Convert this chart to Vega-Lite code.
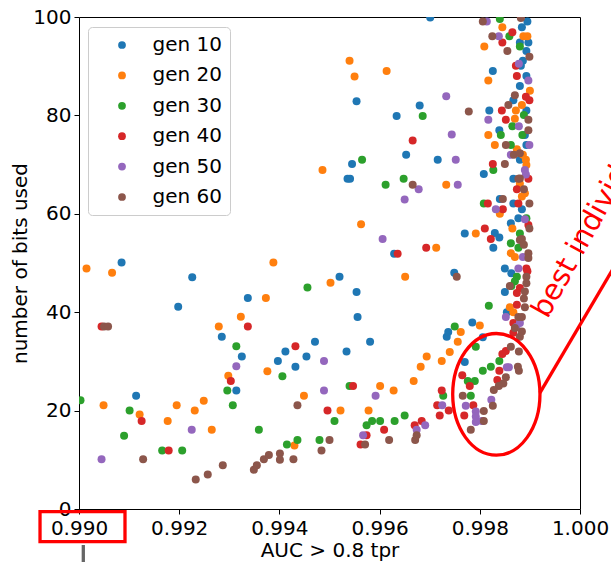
{
  "$schema": "https://vega.github.io/schema/vega-lite/v6.json",
  "width": 501,
  "height": 492,
  "autosize": {"type": "none"},
  "padding": {"left": 79, "top": 17, "right": 31, "bottom": 53},
  "background": "#ffffff",
  "config": {
    "font": "DejaVu Sans",
    "view": {"stroke": "#000000", "strokeWidth": 1},
    "axis": {
      "domain": false, "grid": false, "tickColor": "#000000", "tickSize": 5, "tickWidth": 1,
      "labelFontSize": 20, "titleFontSize": 20, "labelColor": "#000000", "titleColor": "#000000",
      "titleFontWeight": "normal", "labelFont": "DejaVu Sans", "titleFont": "DejaVu Sans", "labelFlush": false
    }
  },
  "data": {"values": [
    {"g":"gen 10","x":0.99085,"y":50.1},{"g":"gen 10","x":0.99226,"y":47.1},{"g":"gen 10","x":0.99198,"y":41.1},{"g":"gen 10","x":0.99337,"y":42.9},
    {"g":"gen 10","x":0.99285,"y":35.0},{"g":"gen 10","x":0.99325,"y":31.0},{"g":"gen 10","x":0.99397,"y":30.1},{"g":"gen 10","x":0.99314,"y":24.1},
    {"g":"gen 10","x":0.99114,"y":23.0},{"g":"gen 10","x":0.9952,"y":47.2},{"g":"gen 10","x":0.99749,"y":48.0},{"g":"gen 10","x":0.99554,"y":44.1},
    {"g":"gen 10","x":0.99556,"y":39.0},{"g":"gen 10","x":0.99471,"y":34.0},{"g":"gen 10","x":0.99581,"y":34.0},{"g":"gen 10","x":0.99412,"y":32.0},
    {"g":"gen 10","x":0.99454,"y":31.0},{"g":"gen 10","x":0.99534,"y":32.0},{"g":"gen 10","x":0.99432,"y":28.9},{"g":"gen 10","x":0.99734,"y":35.0},
    {"g":"gen 10","x":0.99737,"y":36.0},{"g":"gen 10","x":0.99785,"y":37.9},{"g":"gen 10","x":0.99806,"y":34.9},{"g":"gen 10","x":0.99701,"y":99.9},
    {"g":"gen 10","x":0.99554,"y":82.9},{"g":"gen 10","x":0.9968,"y":82.0},{"g":"gen 10","x":0.99634,"y":79.9},{"g":"gen 10","x":0.99653,"y":72.0},
    {"g":"gen 10","x":0.99716,"y":71.0},{"g":"gen 10","x":0.99545,"y":70.1},{"g":"gen 10","x":0.99536,"y":67.1},{"g":"gen 10","x":0.99541,"y":67.1},
    {"g":"gen 10","x":0.99629,"y":51.9},{"g":"gen 10","x":0.9977,"y":56.0},{"g":"gen 10","x":0.9983,"y":56.1},{"g":"gen 10","x":0.99839,"y":55.2},
    {"g":"gen 10","x":0.99827,"y":53.1},{"g":"gen 10","x":0.99895,"y":99.1},{"g":"gen 10","x":0.99884,"y":97.9},{"g":"gen 10","x":0.99897,"y":94.8},
    {"g":"gen 10","x":0.99893,"y":93.1},{"g":"gen 10","x":0.99886,"y":91.1},{"g":"gen 10","x":0.99882,"y":90.1},{"g":"gen 10","x":0.99826,"y":89.0},
    {"g":"gen 10","x":0.99893,"y":88.0},{"g":"gen 10","x":0.9988,"y":86.0},{"g":"gen 10","x":0.99867,"y":83.1},{"g":"gen 10","x":0.99819,"y":81.0},
    {"g":"gen 10","x":0.99893,"y":81.0},{"g":"gen 10","x":0.99839,"y":77.0},{"g":"gen 10","x":0.9989,"y":76.0},{"g":"gen 10","x":0.99893,"y":74.0},
    {"g":"gen 10","x":0.9988,"y":71.0},{"g":"gen 10","x":0.99808,"y":68.1},{"g":"gen 10","x":0.99867,"y":67.1},{"g":"gen 10","x":0.9984,"y":63.0},
    {"g":"gen 10","x":0.99867,"y":62.1},{"g":"gen 10","x":0.99884,"y":60.9},{"g":"gen 10","x":0.99877,"y":59.1},{"g":"gen 10","x":0.99862,"y":58.1},
    {"g":"gen 10","x":0.9985,"y":48.9},{"g":"gen 10","x":0.99863,"y":47.9},{"g":"gen 10","x":0.9985,"y":44.1},{"g":"gen 10","x":0.99854,"y":40.0},
    {"g":"gen 10","x":0.9977,"y":29.9},{"g":"gen 10","x":0.9988,"y":94.8},
    {"g":"gen 20","x":0.99015,"y":48.9},{"g":"gen 20","x":0.99066,"y":48.0},{"g":"gen 20","x":0.99388,"y":50.1},{"g":"gen 20","x":0.99373,"y":42.9},
    {"g":"gen 20","x":0.99323,"y":39.1},{"g":"gen 20","x":0.99279,"y":37.1},{"g":"gen 20","x":0.99376,"y":28.0},{"g":"gen 20","x":0.99298,"y":27.1},
    {"g":"gen 20","x":0.99049,"y":21.1},{"g":"gen 20","x":0.99195,"y":21.1},{"g":"gen 20","x":0.99249,"y":22.0},{"g":"gen 20","x":0.99231,"y":20.0},
    {"g":"gen 20","x":0.99121,"y":19.2},{"g":"gen 20","x":0.99177,"y":17.9},{"g":"gen 20","x":0.99265,"y":16.1},{"g":"gen 20","x":0.99502,"y":46.0},
    {"g":"gen 20","x":0.99651,"y":47.2},{"g":"gen 20","x":0.99449,"y":23.0},{"g":"gen 20","x":0.99601,"y":25.0},{"g":"gen 20","x":0.99628,"y":24.1},
    {"g":"gen 20","x":0.99668,"y":26.0},{"g":"gen 20","x":0.99522,"y":20.0},{"g":"gen 20","x":0.99578,"y":20.0},{"g":"gen 20","x":0.9943,"y":12.9},
    {"g":"gen 20","x":0.99694,"y":31.0},{"g":"gen 20","x":0.99682,"y":28.9},{"g":"gen 20","x":0.99724,"y":30.1},{"g":"gen 20","x":0.9974,"y":31.9},
    {"g":"gen 20","x":0.99756,"y":34.0},{"g":"gen 20","x":0.99762,"y":36.0},{"g":"gen 20","x":0.998,"y":37.3},{"g":"gen 20","x":0.9954,"y":91.1},
    {"g":"gen 20","x":0.9955,"y":87.9},{"g":"gen 20","x":0.99614,"y":89.0},{"g":"gen 20","x":0.99486,"y":68.9},{"g":"gen 20","x":0.99733,"y":65.9},
    {"g":"gen 20","x":0.99563,"y":57.9},{"g":"gen 20","x":0.99713,"y":53.1},{"g":"gen 20","x":0.99792,"y":56.0},{"g":"gen 20","x":0.99845,"y":97.9},
    {"g":"gen 20","x":0.99887,"y":96.1},{"g":"gen 20","x":0.99895,"y":96.1},{"g":"gen 20","x":0.99809,"y":94.0},{"g":"gen 20","x":0.99817,"y":87.1},
    {"g":"gen 20","x":0.999,"y":85.0},{"g":"gen 20","x":0.99884,"y":82.1},{"g":"gen 20","x":0.99872,"y":81.0},{"g":"gen 20","x":0.9987,"y":79.3},
    {"g":"gen 20","x":0.99817,"y":76.0},{"g":"gen 20","x":0.9983,"y":74.0},{"g":"gen 20","x":0.99874,"y":73.1},{"g":"gen 20","x":0.99886,"y":72.0},
    {"g":"gen 20","x":0.99892,"y":71.0},{"g":"gen 20","x":0.99893,"y":69.9},{"g":"gen 20","x":0.9988,"y":66.1},{"g":"gen 20","x":0.9984,"y":60.0},
    {"g":"gen 20","x":0.99865,"y":57.0},{"g":"gen 20","x":0.99862,"y":52.0},{"g":"gen 20","x":0.9987,"y":51.2},{"g":"gen 20","x":0.9986,"y":41.0},
    {"g":"gen 20","x":0.99867,"y":40.0},{"g":"gen 20","x":0.99884,"y":63.5},{"g":"gen 20","x":0.9989,"y":64.2},
    {"g":"gen 30","x":0.99314,"y":33.1},{"g":"gen 30","x":0.99296,"y":24.1},{"g":"gen 30","x":0.99003,"y":22.1},{"g":"gen 30","x":0.99307,"y":21.1},
    {"g":"gen 30","x":0.99101,"y":20.0},{"g":"gen 30","x":0.99359,"y":16.1},{"g":"gen 30","x":0.9909,"y":14.9},{"g":"gen 30","x":0.99166,"y":11.9},
    {"g":"gen 30","x":0.99206,"y":11.9},{"g":"gen 30","x":0.99456,"y":45.0},{"g":"gen 30","x":0.99406,"y":27.0},{"g":"gen 30","x":0.9954,"y":25.0},
    {"g":"gen 30","x":0.9951,"y":17.9},{"g":"gen 30","x":0.99585,"y":17.9},{"g":"gen 30","x":0.99601,"y":17.9},{"g":"gen 30","x":0.99574,"y":17.0},
    {"g":"gen 30","x":0.9963,"y":17.9},{"g":"gen 30","x":0.9965,"y":19.0},{"g":"gen 30","x":0.9948,"y":14.0},{"g":"gen 30","x":0.99415,"y":13.1},
    {"g":"gen 30","x":0.99436,"y":14.0},{"g":"gen 30","x":0.9975,"y":37.1},{"g":"gen 30","x":0.99727,"y":23.0},{"g":"gen 30","x":0.99818,"y":41.3},
    {"g":"gen 30","x":0.99792,"y":33.0},{"g":"gen 30","x":0.99839,"y":30.1},{"g":"gen 30","x":0.99822,"y":28.9},{"g":"gen 30","x":0.99806,"y":28.1},
    {"g":"gen 30","x":0.99776,"y":26.0},{"g":"gen 30","x":0.9979,"y":26.0},{"g":"gen 30","x":0.99782,"y":23.0},{"g":"gen 30","x":0.99565,"y":71.0},
    {"g":"gen 30","x":0.99686,"y":79.9},{"g":"gen 30","x":0.99612,"y":65.9},{"g":"gen 30","x":0.99648,"y":67.1},{"g":"gen 30","x":0.9984,"y":99.6},
    {"g":"gen 30","x":0.99859,"y":96.1},{"g":"gen 30","x":0.9988,"y":94.0},{"g":"gen 30","x":0.99888,"y":80.1},{"g":"gen 30","x":0.99865,"y":77.8},
    {"g":"gen 30","x":0.99842,"y":76.0},{"g":"gen 30","x":0.99885,"y":76.0},{"g":"gen 30","x":0.99862,"y":74.0},{"g":"gen 30","x":0.99827,"y":68.9},
    {"g":"gen 30","x":0.99808,"y":62.1},{"g":"gen 30","x":0.99893,"y":59.1},{"g":"gen 30","x":0.9988,"y":56.0},{"g":"gen 30","x":0.99862,"y":54.0},
    {"g":"gen 30","x":0.99877,"y":53.1},{"g":"gen 30","x":0.99874,"y":47.2},{"g":"gen 30","x":0.9987,"y":46.3},{"g":"gen 30","x":0.99863,"y":45.3},
    {"g":"gen 40","x":0.99045,"y":37.1},{"g":"gen 40","x":0.99337,"y":37.1},{"g":"gen 40","x":0.99303,"y":26.0},{"g":"gen 40","x":0.99125,"y":17.9},
    {"g":"gen 40","x":0.99179,"y":11.9},{"g":"gen 40","x":0.99432,"y":33.1},{"g":"gen 40","x":0.99547,"y":25.0},{"g":"gen 40","x":0.99496,"y":20.0},
    {"g":"gen 40","x":0.99609,"y":16.1},{"g":"gen 40","x":0.99574,"y":15.0},{"g":"gen 40","x":0.99562,"y":13.1},{"g":"gen 40","x":0.9967,"y":17.0},
    {"g":"gen 40","x":0.99684,"y":17.9},{"g":"gen 40","x":0.99724,"y":24.1},{"g":"gen 40","x":0.99715,"y":21.1},{"g":"gen 40","x":0.9972,"y":19.0},
    {"g":"gen 40","x":0.99738,"y":20.0},{"g":"gen 40","x":0.99839,"y":28.1},{"g":"gen 40","x":0.99852,"y":32.1},{"g":"gen 40","x":0.99845,"y":31.5},
    {"g":"gen 40","x":0.99835,"y":26.2},{"g":"gen 40","x":0.99765,"y":27.2},{"g":"gen 40","x":0.9978,"y":25.0},{"g":"gen 40","x":0.99787,"y":21.1},
    {"g":"gen 40","x":0.99769,"y":19.0},{"g":"gen 40","x":0.99666,"y":74.9},{"g":"gen 40","x":0.99636,"y":51.9},{"g":"gen 40","x":0.99693,"y":53.1},
    {"g":"gen 40","x":0.9981,"y":57.0},{"g":"gen 40","x":0.99822,"y":54.9},{"g":"gen 40","x":0.99845,"y":94.8},{"g":"gen 40","x":0.99865,"y":96.9},
    {"g":"gen 40","x":0.99872,"y":90.1},{"g":"gen 40","x":0.99874,"y":88.0},{"g":"gen 40","x":0.99892,"y":83.8},{"g":"gen 40","x":0.99899,"y":83.1},
    {"g":"gen 40","x":0.99844,"y":81.0},{"g":"gen 40","x":0.99852,"y":79.1},{"g":"gen 40","x":0.99826,"y":70.1},{"g":"gen 40","x":0.99897,"y":67.1},
    {"g":"gen 40","x":0.99874,"y":65.0},{"g":"gen 40","x":0.99816,"y":62.1},{"g":"gen 40","x":0.99846,"y":60.9},{"g":"gen 40","x":0.99877,"y":62.1},
    {"g":"gen 40","x":0.99893,"y":48.9},{"g":"gen 40","x":0.99895,"y":48.3},{"g":"gen 40","x":0.9988,"y":44.9},{"g":"gen 40","x":0.99874,"y":43.9},
    {"g":"gen 40","x":0.99874,"y":41.5},{"g":"gen 40","x":0.99867,"y":37.8},{"g":"gen 40","x":0.99867,"y":35.8},{"g":"gen 40","x":0.99897,"y":57.7},
    {"g":"gen 50","x":0.99314,"y":29.0},{"g":"gen 50","x":0.99225,"y":16.1},{"g":"gen 50","x":0.99045,"y":10.1},{"g":"gen 50","x":0.99489,"y":30.1},
    {"g":"gen 50","x":0.99489,"y":24.1},{"g":"gen 50","x":0.99592,"y":23.0},{"g":"gen 50","x":0.99567,"y":15.0},{"g":"gen 50","x":0.99674,"y":16.1},
    {"g":"gen 50","x":0.99691,"y":17.0},{"g":"gen 50","x":0.99725,"y":21.1},{"g":"gen 50","x":0.99854,"y":28.8},{"g":"gen 50","x":0.99858,"y":28.8},
    {"g":"gen 50","x":0.99823,"y":22.2},{"g":"gen 50","x":0.99772,"y":21.0},{"g":"gen 50","x":0.99792,"y":19.8},{"g":"gen 50","x":0.99792,"y":18.8},
    {"g":"gen 50","x":0.99792,"y":17.7},{"g":"gen 50","x":0.99804,"y":17.9},{"g":"gen 50","x":0.99733,"y":83.9},{"g":"gen 50","x":0.99744,"y":76.1},
    {"g":"gen 50","x":0.99752,"y":71.0},{"g":"gen 50","x":0.99678,"y":65.0},{"g":"gen 50","x":0.99756,"y":65.9},{"g":"gen 50","x":0.9965,"y":62.9},
    {"g":"gen 50","x":0.99606,"y":54.9},{"g":"gen 50","x":0.99814,"y":99.1},{"g":"gen 50","x":0.99838,"y":96.1},{"g":"gen 50","x":0.99878,"y":90.5},
    {"g":"gen 50","x":0.99897,"y":87.1},{"g":"gen 50","x":0.99817,"y":79.1},{"g":"gen 50","x":0.99878,"y":77.8},{"g":"gen 50","x":0.99899,"y":74.0},
    {"g":"gen 50","x":0.99862,"y":72.0},{"g":"gen 50","x":0.9989,"y":68.9},{"g":"gen 50","x":0.99892,"y":68.0},{"g":"gen 50","x":0.99832,"y":60.9},
    {"g":"gen 50","x":0.9989,"y":58.9},{"g":"gen 50","x":0.99886,"y":51.2},{"g":"gen 50","x":0.99877,"y":48.9},{"g":"gen 50","x":0.99852,"y":39.0},
    {"g":"gen 50","x":0.9988,"y":37.8},{"g":"gen 50","x":0.99873,"y":37.0},
    {"g":"gen 60","x":0.9905,"y":37.1},{"g":"gen 60","x":0.99058,"y":37.1},{"g":"gen 60","x":0.99128,"y":10.1},{"g":"gen 60","x":0.99233,"y":6.0},
    {"g":"gen 60","x":0.99257,"y":7.0},{"g":"gen 60","x":0.99287,"y":8.9},{"g":"gen 60","x":0.99349,"y":8.0},{"g":"gen 60","x":0.99355,"y":8.9},
    {"g":"gen 60","x":0.99369,"y":10.1},{"g":"gen 60","x":0.99379,"y":11.0},{"g":"gen 60","x":0.99401,"y":11.3},{"g":"gen 60","x":0.99401,"y":10.0},
    {"g":"gen 60","x":0.99428,"y":10.1},{"g":"gen 60","x":0.99754,"y":47.2},{"g":"gen 60","x":0.99436,"y":21.1},{"g":"gen 60","x":0.99571,"y":13.1},
    {"g":"gen 60","x":0.99619,"y":14.0},{"g":"gen 60","x":0.995,"y":14.0},{"g":"gen 60","x":0.99484,"y":11.9},{"g":"gen 60","x":0.99671,"y":14.0},
    {"g":"gen 60","x":0.99674,"y":15.0},{"g":"gen 60","x":0.99862,"y":33.0},{"g":"gen 60","x":0.99878,"y":32.0},{"g":"gen 60","x":0.99876,"y":28.9},
    {"g":"gen 60","x":0.99878,"y":28.1},{"g":"gen 60","x":0.99852,"y":26.8},{"g":"gen 60","x":0.99847,"y":25.5},{"g":"gen 60","x":0.99838,"y":25.0},
    {"g":"gen 60","x":0.99828,"y":24.2},{"g":"gen 60","x":0.99766,"y":23.0},{"g":"gen 60","x":0.99826,"y":21.0},{"g":"gen 60","x":0.99808,"y":19.9},
    {"g":"gen 60","x":0.99808,"y":17.9},{"g":"gen 60","x":0.99782,"y":16.1},{"g":"gen 60","x":0.99778,"y":80.8},{"g":"gen 60","x":0.99666,"y":65.9},
    {"g":"gen 60","x":0.99806,"y":99.1},{"g":"gen 60","x":0.99882,"y":99.8},{"g":"gen 60","x":0.99825,"y":96.1},{"g":"gen 60","x":0.99855,"y":93.1},
    {"g":"gen 60","x":0.99899,"y":91.9},{"g":"gen 60","x":0.9987,"y":84.1},{"g":"gen 60","x":0.99857,"y":82.1},{"g":"gen 60","x":0.99897,"y":79.1},
    {"g":"gen 60","x":0.99897,"y":77.0},{"g":"gen 60","x":0.99852,"y":74.0},{"g":"gen 60","x":0.99868,"y":72.0},{"g":"gen 60","x":0.9985,"y":70.1},
    {"g":"gen 60","x":0.99877,"y":67.1},{"g":"gen 60","x":0.99888,"y":65.0},{"g":"gen 60","x":0.99846,"y":63.0},{"g":"gen 60","x":0.99899,"y":62.1},
    {"g":"gen 60","x":0.99899,"y":57.0},{"g":"gen 60","x":0.99884,"y":54.9},{"g":"gen 60","x":0.99897,"y":52.0},{"g":"gen 60","x":0.99897,"y":51.0},
    {"g":"gen 60","x":0.99893,"y":47.2},{"g":"gen 60","x":0.9989,"y":41.0},{"g":"gen 60","x":0.99877,"y":39.0},{"g":"gen 60","x":0.99884,"y":39.0},
    {"g":"gen 60","x":0.99888,"y":42.8},{"g":"gen 60","x":0.9987,"y":36.8},{"g":"gen 60","x":0.99884,"y":36.1},{"g":"gen 60","x":0.9986,"y":45.3},
    {"g":"gen 60","x":0.99893,"y":45.9},{"g":"gen 60","x":0.9989,"y":44.2},{"g":"gen 60","x":0.9988,"y":72.3},{"g":"gen 60","x":0.9988,"y":67.2},
    {"g":"gen 60","x":0.9988,"y":54.7},{"g":"gen 60","x":0.99888,"y":53.7},{"g":"gen 60","x":0.9988,"y":35.0}
  ]},
  "layer": [
    {
      "mark": {"type": "point", "filled": true, "size": 64, "opacity": 1, "clip": true},
      "encoding": {
        "x": {"field": "x", "type": "quantitative", "title": "AUC > 0.8 tpr",
          "scale": {"domain": [0.99, 1.0], "nice": false, "zero": false},
          "axis": {"values": [0.99, 0.992, 0.994, 0.996, 0.998, 1.0], "format": ".3f", "labelPadding": 4, "titlePadding": 2}},
        "y": {"field": "y", "type": "quantitative", "title": "number of bits used",
          "scale": {"domain": [0, 100], "nice": false},
          "axis": {"values": [0, 20, 40, 60, 80, 100], "labelPadding": 3, "titlePadding": 2}},
        "color": {"field": "g", "type": "nominal",
          "scale": {"domain": ["gen 10", "gen 20", "gen 30", "gen 40", "gen 50", "gen 60"],
                    "range": ["#1f77b4", "#ff7f0e", "#2ca02c", "#d62728", "#9467bd", "#8c564b"]},
          "legend": {"orient": "none", "legendX": 9, "legendY": 10, "title": null, "padding": 8,
            "strokeColor": "#cccccc", "fillColor": "#ffffff", "cornerRadius": 4,
            "labelFontSize": 20, "labelColor": "#000000", "labelFont": "DejaVu Sans",
            "symbolSize": 60, "symbolType": "circle", "symbolOpacity": 1, "symbolStrokeWidth": 0,
            "rowPadding": 10.4, "symbolOffset": 16, "labelOffset": 20.5,
            "labelExpr": "datum.label + '   '"}}
      }
    },
    {
      "data": {"values": [{"x": 0.99833, "y": 23.3}]},
      "mark": {"type": "point", "filled": false, "color": "#ff0000", "strokeWidth": 3.3, "opacity": 1, "clip": false, "size": 14811,
        "shape": "M 0 -1 C 0.396 -1 0.717 -0.5523 0.717 0 C 0.717 0.5523 0.396 1 0 1 C -0.396 1 -0.717 0.5523 -0.717 0 C -0.717 -0.5523 -0.396 -1 0 -1 Z"},
      "encoding": {"x": {"field": "x", "type": "quantitative", "title": "AUC > 0.8 tpr"}, "y": {"field": "y", "type": "quantitative", "title": "number of bits used"}}
    },
    {
      "data": {"values": [{"x": 0.9992, "y": 23.6, "x2": 1.0009, "y2": 53.0}]},
      "mark": {"type": "rule", "color": "#ff0000", "strokeWidth": 3.3, "clip": false},
      "encoding": {"x": {"field": "x", "type": "quantitative", "title": "AUC > 0.8 tpr"}, "y": {"field": "y", "type": "quantitative", "title": "number of bits used"}, "x2": {"field": "x2"}, "y2": {"field": "y2"}}
    },
    {
      "data": {"values": [{"x": 0.99935, "y": 38.5, "label": "best individuals"}]},
      "mark": {"type": "text", "color": "#ff0000", "fontSize": 29, "font": "DejaVu Sans", "angle": -61, "align": "left", "baseline": "alphabetic", "clip": false},
      "encoding": {"x": {"field": "x", "type": "quantitative", "title": "AUC > 0.8 tpr"}, "y": {"field": "y", "type": "quantitative", "title": "number of bits used"}, "text": {"field": "label"}}
    },
    {
      "data": {"values": [{"x": 0.989222, "x2": 0.990918, "y": -0.55, "y2": -6.65}]},
      "mark": {"type": "rect", "filled": false, "stroke": "#ff0000", "strokeWidth": 3.3, "clip": false},
      "encoding": {"x": {"field": "x", "type": "quantitative", "title": "AUC > 0.8 tpr"}, "y": {"field": "y", "type": "quantitative", "title": "number of bits used"}, "x2": {"field": "x2"}, "y2": {"field": "y2"}}
    },
    {
      "data": {"values": [{"x": 0.990086, "y": -7.32, "y2": -11.4}]},
      "mark": {"type": "rule", "color": "#666666", "strokeWidth": 3.3, "clip": false},
      "encoding": {"x": {"field": "x", "type": "quantitative", "title": "AUC > 0.8 tpr"}, "y": {"field": "y", "type": "quantitative", "title": "number of bits used"}, "y2": {"field": "y2"}}
    }
  ]
}
